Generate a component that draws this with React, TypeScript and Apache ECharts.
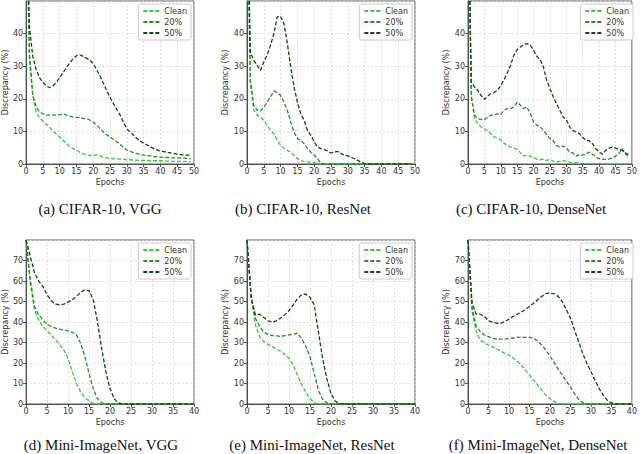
import React, { useEffect, useRef } from 'react';
import * as echarts from 'echarts';

// 图例名称
const SERIES_NAMES = ['Clean', '20%', '50%'];
const SERIES_COLORS = ['#33cc33', '#229022', '#124812'];

// 上排 epochs 0..49，下排 epochs 0..40
const TOP_EPOCHS = Array.from({ length: 50 }, (_, i) => i);
const BOTTOM_EPOCHS = Array.from({ length: 41 }, (_, i) => i);

const TOP_X_TICKS = [0, 5, 10, 15, 20, 25, 30, 35, 40, 45, 50];
const BOTTOM_X_TICKS = [0, 5, 10, 15, 20, 25, 30, 35, 40];
const TOP_Y_TICKS = [0, 10, 20, 30, 40, 50];
const BOTTOM_Y_TICKS = [0, 10, 20, 30, 40, 50, 60, 70, 80];

// (a) CIFAR-10, VGG
const cifarVggClean = [85, 32, 21, 16, 14.2, 13.2, 12.2, 11.2, 10.2, 9.2, 8.3, 7.3, 6.3, 5.4, 4.7, 4.2, 3.6, 3.1, 2.8, 2.6, 2.6, 2.8, 2.5, 2.1, 1.9, 1.7, 1.6, 1.6, 1.5, 1.4, 1.3, 1.3, 1.2, 1.2, 1.1, 1.1, 1.1, 1.0, 1.0, 1.0, 1.0, 0.9, 0.9, 0.9, 0.8, 0.8, 0.8, 0.8, 0.7, 0.7];
const cifarVgg20 = [85, 34, 21, 17.5, 16, 15.4, 15, 15, 15.1, 15, 15.1, 15.4, 15, 14.7, 14.4, 14.3, 14.2, 14, 13.9, 13.5, 12.8, 11.9, 10.9, 9.8, 9, 8.2, 7.5, 6.8, 6, 5, 4.3, 3.9, 3.5, 3.2, 2.9, 2.7, 2.6, 2.5, 2.3, 2.2, 2.1, 2.0, 2.0, 1.9, 1.9, 1.9, 1.8, 1.8, 1.7, 1.6];
const cifarVgg50 = [85, 42, 33, 29, 26.5, 25, 24, 23.4, 24, 25, 26.5, 28, 29.5, 31, 32.3, 33.2, 33.5, 33, 32.5, 31.8, 30.8, 29, 27, 24.8, 22.5, 20.5, 18.5, 16.7, 15, 12.8, 10.8, 9.8, 8.8, 7.8, 7, 6.4, 5.9, 5.3, 4.7, 4.3, 4, 3.8, 3.6, 3.4, 3.2, 3, 2.9, 2.8, 2.7, 2.7];

// (b) CIFAR-10, ResNet
const cifarResClean = [85, 24.7, 16.5, 15, 14.4, 13.4, 11.9, 10.3, 9.3, 7.3, 5.7, 4.9, 4.2, 3.7, 2.7, 1.6, 1.1, 0.7, 0.6, 0.6, 0.4, 0.2, 0, 0, 0, 0, 0, 0, 0, 0, 0, 0, 0, 0, 0, 0, 0, 0, 0, 0, 0, 0, 0, 0, 0, 0, 0, 0, 0, 0];
const cifarRes20 = [85, 25.7, 18, 16.5, 16.2, 17.5, 19, 20.6, 22.4, 22, 21, 19, 16.5, 12.9, 9.8, 7.8, 7.3, 6.2, 4.7, 3.7, 2.7, 1.6, 0.3, 0, 0, 0, 0, 0, 0, 0, 0, 0, 0, 0, 0, 0, 0, 0, 0, 0, 0, 0, 0, 0, 0, 0, 0, 0, 0, 0];
const cifarRes50 = [85, 34.4, 31.8, 30.3, 28.7, 31.3, 33.4, 36.4, 40, 45.1, 45.3, 43, 37, 29.8, 23.6, 19, 15.4, 13.4, 10.3, 8.8, 6.8, 5.2, 4.7, 4.4, 4, 3.4, 3.7, 3.9, 3.2, 2.7, 2.5, 2.1, 1.6, 1.1, 0.5, 0.1, 0, 0, 0, 0, 0, 0, 0, 0, 0, 0, 0, 0, 0, 0];

// (c) CIFAR-10, DenseNet
const cifarDenseClean = [85, 21, 13.9, 12.4, 11.4, 10.8, 10.1, 9.3, 8.3, 8, 7.3, 6.4, 5.7, 5.2, 4.9, 4.5, 3.4, 2.4, 2.7, 2.4, 1.9, 1.5, 1.3, 1.5, 1.1, 1.4, 0.9, 0.6, 0.8, 1.1, 0.9, 0.6, 0.5, 0.4, 0.3, 0.2, 0.1, 0.1, 0.1, 0.1, 0.1, 0, 0, 0, 0, 0, 0, 0, 0, 0];
const cifarDense20 = [85, 20.6, 15, 13.9, 13.7, 13.6, 14.4, 15, 15, 15.4, 15.2, 16.5, 17, 17, 17.5, 19, 18, 17, 17.5, 15.4, 12.9, 11.9, 11.4, 10.3, 9, 7.8, 7.1, 5.7, 5.2, 5.5, 4.9, 3.7, 3.4, 2.4, 2.9, 2.7, 3, 3.7, 3, 2.1, 1.6, 1.5, 1.4, 1.5, 1.8, 2.4, 3.2, 4.7, 3.2, 2.1];
const cifarDense50 = [85, 25.2, 23.6, 22.6, 21, 19.8, 20.8, 21.6, 22, 22.6, 24.1, 25.9, 27.9, 30.3, 33.4, 35.1, 35.9, 36.7, 36.9, 36.4, 34.9, 33, 32, 29.8, 25.7, 23.1, 20.6, 18.5, 16.5, 14.4, 13.6, 11.4, 10.3, 9.8, 9.3, 8.1, 7.3, 7.1, 6.2, 4.7, 3.7, 3, 4.2, 4.9, 5.2, 4.9, 4.5, 4.2, 3.4, 2.9];

// (d) Mini-ImageNet, VGG
const miniVggClean = [80, 59, 46, 41, 37.8, 35.7, 33.7, 31.2, 29.1, 26.3, 22.2, 15.7, 10, 5.9, 3.1, 1.5, 0.3, 0, 0, 0, 0, 0, 0, 0, 0, 0, 0, 0, 0, 0, 0, 0, 0, 0, 0, 0, 0, 0, 0, 0, 0];
const miniVgg20 = [80, 60.7, 47.6, 43.5, 41, 38.9, 37.8, 37, 36.5, 36.1, 35.7, 35, 33.7, 29.6, 23.1, 14.9, 7.5, 2.6, 0.5, 0, 0, 0, 0, 0, 0, 0, 0, 0, 0, 0, 0, 0, 0, 0, 0, 0, 0, 0, 0, 0, 0];
const miniVgg50 = [80, 72, 64, 60, 57.4, 53.3, 50.4, 48.7, 48.4, 48.7, 49.7, 50.9, 52.5, 54.5, 55.8, 55.3, 50.9, 40.2, 27.2, 15.7, 7.5, 2.6, 0.5, 0, 0, 0, 0, 0, 0, 0, 0, 0, 0, 0, 0, 0, 0, 0, 0, 0, 0];

// (e) Mini-ImageNet, ResNet
const miniResClean = [80, 51.7, 38.6, 32.9, 30.4, 29.1, 28, 26.8, 25.8, 24.2, 22.2, 19, 14.1, 9.5, 5.9, 2.6, 0.7, 0, 0, 0, 0, 0, 0, 0, 0, 0, 0, 0, 0, 0, 0, 0, 0, 0, 0, 0, 0, 0, 0, 0, 0];
const miniRes20 = [80, 52.5, 41.9, 37.8, 35, 34, 33.4, 33.2, 32.9, 33.4, 33.7, 34, 34.5, 32, 28, 23.1, 14.9, 6.7, 2.3, 0.5, 0, 0, 0, 0, 0, 0, 0, 0, 0, 0, 0, 0, 0, 0, 0, 0, 0, 0, 0, 0, 0];
const miniRes50 = [80, 51.7, 43.5, 43.8, 42.2, 40.6, 39.9, 40.6, 41.9, 43.5, 45.5, 48.4, 51.4, 53.3, 53.6, 52, 48.4, 35.3, 22.2, 12.4, 5.1, 1.5, 0.2, 0, 0, 0, 0, 0, 0, 0, 0, 0, 0, 0, 0, 0, 0, 0, 0, 0, 0];

// (f) Mini-ImageNet, DenseNet
const miniDenseClean = [80, 45.1, 35.3, 31.2, 29.6, 28.8, 28, 26.8, 25.8, 24.7, 23.9, 22.6, 20.9, 19, 16.5, 14.1, 11.6, 9.2, 6.7, 4.3, 2.6, 1.3, 0.3, 0, 0, 0, 0, 0, 0, 0, 0, 0, 0, 0, 0, 0, 0, 0, 0, 0, 0];
const miniDense20 = [80, 46.8, 37.8, 35.3, 33.7, 32.9, 32, 31.7, 31.6, 31.6, 31.9, 32.2, 32.5, 32.7, 32.5, 32.5, 32, 30.7, 28.8, 26.3, 23.4, 20.3, 17, 14.1, 11.1, 8.3, 5.1, 2.3, 0.7, 0, 0, 0, 0, 0, 0, 0, 0, 0, 0, 0, 0];
const miniDense50 = [80, 49.2, 43.8, 43.8, 42.7, 40.6, 39.9, 39.4, 39.4, 40.2, 41.4, 42.7, 43.8, 44.8, 46, 47.6, 49.2, 50.9, 52.5, 53.8, 54.1, 53.8, 52.5, 50, 46, 41.9, 36.1, 30.4, 24.7, 19.8, 15.7, 11.6, 7.5, 4.3, 1.8, 0.5, 0, 0, 0, 0, 0];

const CAPTIONS = [
  '(a) CIFAR-10, VGG',
  '(b) CIFAR-10, ResNet',
  '(c) CIFAR-10, DenseNet',
  '(d) Mini-ImageNet, VGG',
  '(e) Mini-ImageNet, ResNet',
  '(f) Mini-ImageNet, DenseNet',
];

const PANEL_SERIES = [
  [cifarVggClean, cifarVgg20, cifarVgg50],
  [cifarResClean, cifarRes20, cifarRes50],
  [cifarDenseClean, cifarDense20, cifarDense50],
  [miniVggClean, miniVgg20, miniVgg50],
  [miniResClean, miniRes20, miniRes50],
  [miniDenseClean, miniDense20, miniDense50],
];

// 布局
const PLOT_LEFTS = [26, 247, 468];
const PLOT_WIDTH = 168;
const ROW_TOPS = [1, 240];
const ROW_HEIGHTS = [163, 164];
const CAPTION_X = [100, 303, 531, 101, 312, 538];
const CAPTION_Y = [209, 445];

const AXIS_COLOR = '#333';
const FONT = 'DejaVu Sans';

const App: React.FC = () => {
  const chartRef = useRef<HTMLDivElement>(null);

  useEffect(() => {
    if (!chartRef.current) return;
    const chart = echarts.init(chartRef.current, undefined, { renderer: 'svg' });

    const grids: any[] = [];
    const xAxes: any[] = [];
    const yAxes: any[] = [];
    const legends: any[] = [];
    const series: any[] = [];
    const graphics: any[] = [];

    for (let p = 0; p < 6; p++) {
      const row = p < 3 ? 0 : 1;
      const col = p % 3;
      const left = PLOT_LEFTS[col];
      const top = ROW_TOPS[row];
      const xTicks = row === 0 ? TOP_X_TICKS : BOTTOM_X_TICKS;
      const yTicks = row === 0 ? TOP_Y_TICKS : BOTTOM_Y_TICKS;
      const epochs = row === 0 ? TOP_EPOCHS : BOTTOM_EPOCHS;
      const yMax = yTicks[yTicks.length - 1];

      grids.push({
        left,
        top,
        width: PLOT_WIDTH,
        height: ROW_HEIGHTS[row],
        show: true,
        borderColor: AXIS_COLOR,
        borderWidth: 0.8,
        backgroundColor: 'transparent',
      });

      xAxes.push({
        type: 'value',
        gridIndex: p,
        min: xTicks[0],
        max: xTicks[xTicks.length - 1],
        interval: 5,
        name: 'Epochs',
        nameLocation: 'middle',
        nameGap: 14,
        nameTextStyle: { fontSize: 8, color: AXIS_COLOR, fontFamily: FONT },
        axisLine: { show: true, lineStyle: { color: AXIS_COLOR, width: 0.8 } },
        axisTick: { show: true, length: 3, lineStyle: { color: AXIS_COLOR, width: 0.8 } },
        axisLabel: { fontSize: 8, color: AXIS_COLOR, margin: 3, fontFamily: FONT },
        splitLine: { show: true, lineStyle: { color: '#d6d6d6', type: [2, 2], width: 0.8 } },
      });

      yAxes.push({
        type: 'value',
        gridIndex: p,
        min: 0,
        max: yMax,
        interval: 10,
        name: 'Discrepancy (%)',
        nameLocation: 'middle',
        nameGap: 17,
        nameRotate: 90,
        nameTextStyle: { fontSize: 8, color: AXIS_COLOR, fontFamily: FONT },
        axisLine: { show: true, lineStyle: { color: AXIS_COLOR, width: 0.8 } },
        axisTick: { show: true, length: 3, lineStyle: { color: AXIS_COLOR, width: 0.8 } },
        axisLabel: { fontSize: 8, color: AXIS_COLOR, margin: 3, fontFamily: FONT, showMaxLabel: false },
        splitLine: { show: true, lineStyle: { color: '#d6d6d6', type: [2, 2], width: 0.8 } },
      });

      legends.push({
        orient: 'vertical',
        right: 640 - left - PLOT_WIDTH + 3,
        top: top + 3,
        itemWidth: 16,
        itemHeight: 8,
        itemGap: 3,
        padding: [3, 4, 3, 4],
        backgroundColor: '#fff',
        borderColor: '#ccc',
        borderWidth: 1,
        borderRadius: 2,
        itemStyle: { opacity: 0 },
        textStyle: { fontSize: 8, color: AXIS_COLOR, fontFamily: FONT },
        data: SERIES_NAMES,
      });

      PANEL_SERIES[p].forEach((values, s) => {
        series.push({
          type: 'line',
          name: SERIES_NAMES[s],
          xAxisIndex: p,
          yAxisIndex: p,
          data: values.map((v, i) => [epochs[i], v]),
          showSymbol: false,
          symbol: 'none',
          clip: true,
          lineStyle: { color: SERIES_COLORS[s], width: 1.3, type: [4, 2] },
          itemStyle: { color: SERIES_COLORS[s] },
        });
      });

      graphics.push({
        type: 'text',
        x: CAPTION_X[p],
        y: CAPTION_Y[row],
        style: {
          text: CAPTIONS[p],
          fontSize: 15,
          fontFamily: 'Liberation Serif',
          fill: '#111',
          align: 'center',
          verticalAlign: 'middle',
        },
      });
    }

    chart.setOption({
      animation: false,
      backgroundColor: '#fff',
      grid: grids,
      xAxis: xAxes,
      yAxis: yAxes,
      legend: legends,
      series,
      graphic: graphics,
    });

    return () => {
      chart.dispose();
    };
  }, []);

  return (
    <div
      ref={chartRef}
      style={{ position: 'absolute', left: 0, top: 0, width: '640px', height: '454px' }}
    />
  );
};

export default App;
